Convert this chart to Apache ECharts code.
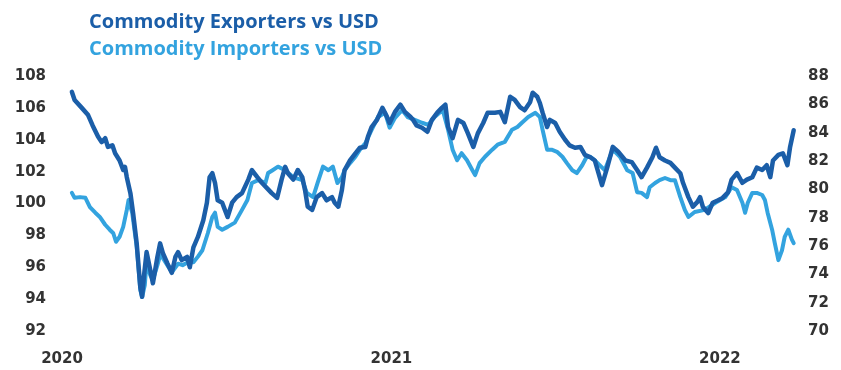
<!DOCTYPE html>
<html>
<head>
<meta charset="utf-8">
<title>Commodity exporters and importers vs USD</title>
<script src="https://cdn.jsdelivr.net/npm/echarts@6/dist/echarts.min.js"></script>
<style>
  html, body { margin: 0; padding: 0; background: #ffffff; }
  #chart { width: 841px; height: 370px; }
</style>
</head>
<body>
<div id="chart"></div>
<script>
// Series names
const exporterName = 'Commodity Exporters vs USD';
const importerName = 'Commodity Importers vs USD';

// Commodity exporters index (left axis)
const exporterDates = [
  '2020-01-12','2020-01-15','2020-01-23','2020-01-30','2020-02-04','2020-02-10','2020-02-14','2020-02-18',
  '2020-02-21','2020-02-26','2020-02-29','2020-03-05','2020-03-09','2020-03-11','2020-03-13','2020-03-17',
  '2020-03-20','2020-03-24','2020-03-28','2020-03-30','2020-04-01','2020-04-04','2020-04-08','2020-04-11',
  '2020-04-16','2020-04-19','2020-04-22','2020-04-27','2020-05-02','2020-05-06','2020-05-09','2020-05-13',
  '2020-05-19','2020-05-22','2020-05-26','2020-05-31','2020-06-06','2020-06-10','2020-06-13','2020-06-16',
  '2020-06-19','2020-06-22','2020-06-27','2020-06-30','2020-07-03','2020-07-08','2020-07-13','2020-07-19',
  '2020-07-26','2020-07-30','2020-08-05','2020-08-10','2020-08-16','2020-08-21','2020-08-27','2020-09-01',
  '2020-09-05','2020-09-08','2020-09-14','2020-09-19','2020-09-24','2020-09-27','2020-09-30','2020-10-05',
  '2020-10-10','2020-10-16','2020-10-21','2020-10-27','2020-10-30','2020-11-03','2020-11-07','2020-11-10',
  '2020-11-16','2020-11-22','2020-11-27','2020-12-03','2020-12-06','2020-12-10','2020-12-16','2020-12-22',
  '2020-12-27','2020-12-30','2021-01-05','2021-01-11','2021-01-16','2021-01-22','2021-01-25','2021-01-29',
  '2021-02-04','2021-02-10','2021-02-15','2021-02-21','2021-02-26','2021-03-02','2021-03-05','2021-03-10',
  '2021-03-16','2021-03-22','2021-03-27','2021-04-02','2021-04-07','2021-04-13','2021-04-18','2021-04-26',
  '2021-05-02','2021-05-07','2021-05-13','2021-05-18','2021-05-24','2021-05-29','2021-06-04','2021-06-07',
  '2021-06-12','2021-06-15','2021-06-18','2021-06-23','2021-06-26','2021-07-02','2021-07-07','2021-07-13',
  '2021-07-18','2021-07-24','2021-07-30','2021-08-04','2021-08-10','2021-08-15','2021-08-23','2021-08-29',
  '2021-09-04','2021-09-10','2021-09-18','2021-09-25','2021-10-01','2021-10-06','2021-10-12','2021-10-18',
  '2021-10-22','2021-10-26','2021-11-01','2021-11-07','2021-11-12','2021-11-18','2021-11-21','2021-11-27',
  '2021-12-02','2021-12-07','2021-12-10','2021-12-13','2021-12-19','2021-12-24','2021-12-30','2022-01-04',
  '2022-01-10','2022-01-14','2022-01-20','2022-01-26','2022-01-31','2022-02-06','2022-02-11','2022-02-17',
  '2022-02-22','2022-02-26','2022-03-01','2022-03-07','2022-03-12','2022-03-17','2022-03-20','2022-03-24'
];
const exporterValues = [
  107.0,106.5,106.0,105.55,104.9,104.2,103.85,104.1,
  103.55,103.65,103.15,102.7,102.1,102.3,101.65,100.65,
  99.4,97.5,94.75,94.15,95.4,96.95,95.85,95.0,
  96.65,97.5,96.9,96.25,95.65,96.65,96.95,96.45,
  96.65,96.0,97.25,97.9,98.95,100.05,101.65,101.9,
  101.3,100.2,100.05,99.6,99.15,100.05,100.4,100.65,
  101.5,102.1,101.65,101.3,100.95,100.65,100.35,101.5,
  102.3,101.9,101.5,102.1,101.65,100.85,99.8,99.6,
  100.4,100.65,100.2,100.4,100.05,99.8,100.85,102.1,
  102.7,103.15,103.5,103.55,104.2,104.8,105.25,106.0,
  105.45,105.05,105.75,106.2,105.75,105.45,105.25,104.9,
  104.75,104.5,105.25,105.7,106.0,106.2,104.8,104.1,
  105.25,105.05,104.4,103.55,104.4,105.05,105.7,105.7,
  105.75,105.1,106.7,106.5,106.05,105.85,106.35,106.95,
  106.7,106.3,105.7,104.8,105.25,105.05,104.5,104.0,
  103.65,103.5,103.55,103.05,102.9,102.7,101.15,102.3,
  103.55,103.25,102.7,102.6,102.1,101.65,102.25,102.9,
  103.5,102.9,102.7,102.55,102.25,101.9,101.3,100.4,
  99.8,100.1,100.4,99.8,99.4,100.05,100.2,100.35,
  100.7,101.5,101.9,101.3,101.5,101.65,102.25,102.1,
  102.4,101.65,102.7,103.05,103.15,102.4,103.55,104.6
];

// Commodity importers index (right axis)
const importerDates = [
  '2020-01-12','2020-01-15','2020-01-21','2020-01-27','2020-02-01','2020-02-07','2020-02-12','2020-02-18',
  '2020-02-23','2020-02-27','2020-03-01','2020-03-05','2020-03-09','2020-03-13','2020-03-15','2020-03-19',
  '2020-03-24','2020-03-28','2020-03-30','2020-04-02','2020-04-04','2020-04-08','2020-04-11','2020-04-16',
  '2020-04-19','2020-04-22','2020-04-27','2020-05-02','2020-05-09','2020-05-14','2020-05-20','2020-05-26',
  '2020-05-31','2020-06-05','2020-06-11','2020-06-16','2020-06-19','2020-06-22','2020-06-27','2020-07-03',
  '2020-07-11','2020-07-19','2020-07-25','2020-07-30','2020-08-06','2020-08-14','2020-08-17','2020-08-22',
  '2020-08-28','2020-09-05','2020-09-14','2020-09-24','2020-09-29','2020-10-06','2020-10-11','2020-10-17',
  '2020-10-23','2020-10-28','2020-11-02','2020-11-07','2020-11-10','2020-11-16','2020-11-22','2020-11-27',
  '2020-12-03','2020-12-10','2020-12-17','2020-12-25','2020-12-30','2021-01-05','2021-01-13','2021-01-19',
  '2021-01-27','2021-02-04','2021-02-11','2021-02-18','2021-02-27','2021-03-05','2021-03-10','2021-03-15',
  '2021-03-20','2021-03-26','2021-04-01','2021-04-04','2021-04-09','2021-04-15','2021-04-23','2021-04-29',
  '2021-05-07','2021-05-15','2021-05-21','2021-05-26','2021-06-02','2021-06-10','2021-06-15','2021-06-18',
  '2021-06-23','2021-06-28','2021-07-04','2021-07-10','2021-07-15','2021-07-21','2021-07-26','2021-08-01',
  '2021-08-06','2021-08-10','2021-08-15','2021-08-26','2021-09-04','2021-09-12','2021-09-20','2021-09-26',
  '2021-10-01','2021-10-06','2021-10-12','2021-10-15','2021-10-21','2021-10-26','2021-11-01','2021-11-07',
  '2021-11-12','2021-11-18','2021-11-23','2021-11-27','2021-12-04','2021-12-15','2021-12-27','2022-01-07',
  '2022-01-14','2022-01-20','2022-01-26','2022-01-29','2022-02-01','2022-02-06','2022-02-11','2022-02-17',
  '2022-02-20','2022-02-23','2022-02-28','2022-03-03','2022-03-07','2022-03-11','2022-03-14','2022-03-18',
  '2022-03-22','2022-03-24'
];
const importerValues = [
  79.75,79.4,79.45,79.4,78.75,78.35,78.05,77.5,
  77.15,76.9,76.3,76.65,77.35,78.55,79.25,78.35,
  75.95,72.9,72.4,73.25,74.85,73.95,73.6,74.65,
  75.35,75.15,74.65,74.15,74.75,74.65,74.85,74.85,
  75.25,75.7,76.9,78.05,78.35,77.35,77.15,77.35,
  77.65,78.55,79.25,80.45,80.65,80.45,81.15,81.35,
  81.6,81.35,80.85,80.65,79.75,79.45,80.45,81.6,
  81.35,81.6,80.45,80.85,81.35,81.85,82.3,82.8,
  83.25,84.2,85.1,85.4,84.35,85.05,85.6,85.1,
  84.9,84.7,84.55,85.1,85.6,84.2,82.8,82.05,
  82.55,82.05,81.35,81.0,81.85,82.3,82.8,83.15,
  83.35,84.2,84.4,84.7,85.1,85.4,85.1,84.2,
  82.8,82.8,82.65,82.3,81.85,81.35,81.15,81.7,
  82.3,82.3,82.05,81.35,82.8,82.3,81.35,81.15,
  79.8,79.75,79.45,80.15,80.45,80.65,80.8,80.65,
  80.65,79.45,78.55,78.05,78.4,78.55,79.05,79.45,
  80.15,79.95,79.05,78.35,79.05,79.75,79.75,79.6,
  79.25,78.35,77.15,76.2,75.0,75.7,76.65,77.15,
  76.45,76.2
];

const darkBlue = '#1b5ea8';
const lightBlue = '#33a3df';
const tickColor = '#333333';
const tickFont = { fontFamily: 'DejaVu Sans', fontWeight: 'bold', fontSize: 15, color: tickColor };
const DAY = 24 * 3600 * 1000;

function pairs(dates, values) {
  return dates.map((d, i) => [d, values[i]]);
}

// Only the first day of each year gets a label
function yearLabel(value) {
  const d = new Date(value);
  return d.getMonth() === 0 && d.getDate() === 1 ? String(d.getFullYear()) : '';
}

const chart = echarts.init(document.getElementById('chart'), null, { renderer: 'canvas' });

chart.setOption({
  animation: false,
  backgroundColor: '#ffffff',
  grid: { left: 62, right: 41, top: 76, bottom: 39 },
  legend: {
    orient: 'vertical',
    left: 83,
    top: 12,
    padding: 0,
    itemGap: 7,
    itemWidth: 0,
    itemHeight: 0,
    selectedMode: false,
    textStyle: { fontFamily: 'Open Sans', fontWeight: 'bold', fontSize: 20 },
    data: [
      { name: exporterName, textStyle: { color: darkBlue } },
      { name: importerName, textStyle: { color: lightBlue } }
    ]
  },
  xAxis: {
    type: 'time',
    min: '2020-01-01',
    max: '2022-03-31',
    minInterval: 365 * DAY,
    axisLine: { show: false },
    axisTick: { show: false },
    splitLine: { show: false },
    axisLabel: Object.assign({
      margin: 21,
      showMinLabel: true,
      hideOverlap: false,
      formatter: yearLabel
    }, tickFont)
  },
  yAxis: [
    {
      type: 'value',
      position: 'left',
      min: 92, max: 108, interval: 2,
      axisLine: { show: false },
      axisTick: { show: false },
      splitLine: { show: false },
      axisLabel: Object.assign({ margin: 16 }, tickFont)
    },
    {
      type: 'value',
      position: 'right',
      min: 70, max: 88, interval: 2,
      axisLine: { show: false },
      axisTick: { show: false },
      splitLine: { show: false },
      axisLabel: Object.assign({ margin: 8 }, tickFont)
    }
  ],
  series: [
    {
      name: importerName,
      type: 'line',
      yAxisIndex: 1,
      showSymbol: false,
      symbol: 'none',
      color: lightBlue,
      lineStyle: { width: 4, color: lightBlue, join: 'round', cap: 'round' },
      data: pairs(importerDates, importerValues)
    },
    {
      name: exporterName,
      type: 'line',
      yAxisIndex: 0,
      showSymbol: false,
      symbol: 'none',
      color: darkBlue,
      lineStyle: { width: 4.5, color: darkBlue, join: 'round', cap: 'round' },
      data: pairs(exporterDates, exporterValues)
    }
  ]
});
</script>
</body>
</html>
